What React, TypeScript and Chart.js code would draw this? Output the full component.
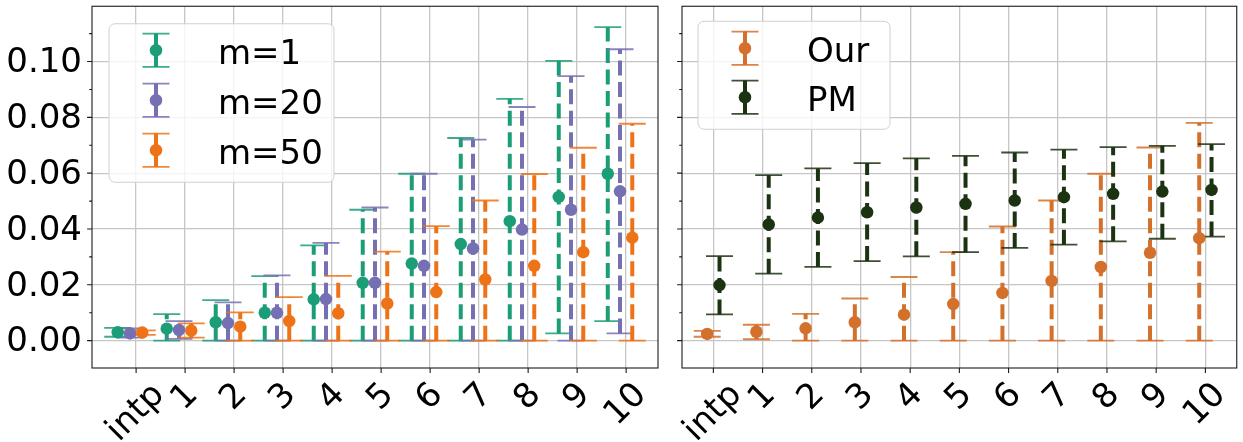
import React, { useEffect, useRef } from 'react';
import { Chart, registerables } from 'chart.js';

Chart.register(...registerables);

// ---------------- data ----------------
const categories = ['intp', '1', '2', '3', '4', '5', '6', '7', '8', '9', '10'];
const yMajorTicks = [0, 0.02, 0.04, 0.06, 0.08, 0.1];
const yMajorLabels = ['0.00', '0.02', '0.04', '0.06', '0.08', '0.10'];
const yMinorTicks = [0.01, 0.03, 0.05, 0.07, 0.09, 0.11];

const m1Mean = [0.0030, 0.0043, 0.0066, 0.0100, 0.0148, 0.0207, 0.0276, 0.0346, 0.0428, 0.0515, 0.0598];
const m1Low = [0.0014, 0.0, 0.0, 0.0, 0.0, 0.0, 0.0, 0.0, 0.0, 0.0026, 0.0070];
const m1High = [0.0046, 0.0095, 0.0145, 0.0231, 0.0341, 0.0469, 0.0598, 0.0726, 0.0866, 0.1002, 0.1123];

const m20Mean = [0.0026, 0.0038, 0.0063, 0.0100, 0.0149, 0.0207, 0.0268, 0.0330, 0.0398, 0.0469, 0.0535];
const m20Low = [0.0011, 0.0006, 0.0, 0.0, 0.0, 0.0, 0.0, 0.0, 0.0, 0.0, 0.0026];
const m20High = [0.0044, 0.0070, 0.0137, 0.0234, 0.0350, 0.0477, 0.0598, 0.0720, 0.0837, 0.0948, 0.1044];

const m50Mean = [0.0029, 0.0036, 0.0050, 0.0070, 0.0098, 0.0133, 0.0174, 0.0219, 0.0268, 0.0317, 0.0369];
const m50Low = [0.0021, 0.0011, 0.0, 0.0, 0.0, 0.0, 0.0, 0.0, 0.0, 0.0, 0.0];
const m50High = [0.0037, 0.0062, 0.0101, 0.0156, 0.0232, 0.0319, 0.0410, 0.0502, 0.0597, 0.0691, 0.0777];

const ourMean = [0.0024, 0.0032, 0.0044, 0.0066, 0.0093, 0.0131, 0.0171, 0.0214, 0.0264, 0.0315, 0.0367];
const ourLow = [0.0014, 0.0005, 0.0, 0.0, 0.0, 0.0, 0.0, 0.0, 0.0, 0.0, 0.0];
const ourHigh = [0.0035, 0.0057, 0.0096, 0.0151, 0.0228, 0.0317, 0.0409, 0.0502, 0.0598, 0.0692, 0.0780];

const pmMean = [0.0199, 0.0416, 0.0441, 0.0460, 0.0477, 0.0490, 0.0502, 0.0514, 0.0526, 0.0534, 0.0540];
const pmLow = [0.0094, 0.0240, 0.0264, 0.0285, 0.0302, 0.0317, 0.0332, 0.0344, 0.0356, 0.0365, 0.0373];
const pmHigh = [0.0303, 0.0593, 0.0617, 0.0636, 0.0653, 0.0662, 0.0674, 0.0684, 0.0693, 0.0698, 0.0704];

// ---------------- style ----------------
const FONT = "'DejaVu Sans', 'Liberation Sans', sans-serif";
const FS = 34;
const GRID = '#c6c6c6';
const Y_MIN = -0.0098;
const Y_MAX = 0.1198;

type Series = {
  label: string;
  color: string;
  mean: number[];
  low: number[];
  high: number[];
  offset: number;
};

const leftSeries: Series[] = [
  { label: 'm=1', color: '#1b9e77', mean: m1Mean, low: m1Low, high: m1High, offset: -0.375 },
  { label: 'm=20', color: '#7570b3', mean: m20Mean, low: m20Low, high: m20High, offset: -0.125 },
  { label: 'm=50', color: '#ee7216', mean: m50Mean, low: m50Low, high: m50High, offset: 0.125 },
];

const rightSeries: Series[] = [
  { label: 'Our', color: '#d3702c', mean: ourMean, low: ourLow, high: ourHigh, offset: -0.125 },
  { label: 'PM', color: '#1c3312', mean: pmMean, low: pmLow, high: pmHigh, offset: 0.125 },
];

type LegendSpec = { bx: number; by: number; bw: number; bh: number; rows: number[]; handleX: number; textX: number };

function drawErrorBar(ctx: CanvasRenderingContext2D, x: number, yLow: number, yHigh: number, color: string) {
  ctx.save();
  ctx.strokeStyle = color;
  ctx.lineWidth = 4;
  ctx.lineCap = 'butt';
  ctx.setLineDash([15, 6.5]);
  ctx.beginPath();
  ctx.moveTo(x, yLow);
  ctx.lineTo(x, yHigh);
  ctx.stroke();
  ctx.setLineDash([]);
  ctx.lineWidth = 1.8;
  ctx.globalAlpha = 0.85;
  ctx.beginPath();
  ctx.moveTo(x - 13.5, yLow);
  ctx.lineTo(x + 13.5, yLow);
  ctx.moveTo(x - 13.5, yHigh);
  ctx.lineTo(x + 13.5, yHigh);
  ctx.stroke();
  ctx.restore();
}

function zeroPadding(s: any) {
  s.paddingTop = 0;
  s.paddingBottom = 0;
  s.paddingLeft = 0;
  s.paddingRight = 0;
}

function makePlugin(series: Series[], legend: LegendSpec) {
  return {
    id: 'panelDecor',
    beforeDatasetsDraw(chart: any) {
      const { ctx, chartArea } = chart;
      const xs = chart.scales.x;
      const ys = chart.scales.y;
      ctx.save();
      ctx.beginPath();
      ctx.rect(chartArea.left, chartArea.top, chartArea.right - chartArea.left, chartArea.bottom - chartArea.top);
      ctx.clip();
      series.forEach((s) => {
        s.mean.forEach((_, i) => {
          const px = xs.getPixelForValue(i + s.offset);
          drawErrorBar(ctx, px, ys.getPixelForValue(s.low[i]), ys.getPixelForValue(s.high[i]), s.color);
        });
      });
      ctx.restore();
    },
    afterDraw(chart: any) {
      const { ctx, chartArea } = chart;
      const xs = chart.scales.x;
      const ys = chart.scales.y;
      const { left, right, top, bottom } = chartArea;
      ctx.save();
      // frame
      ctx.strokeStyle = '#1a1a1a';
      ctx.lineWidth = 1.1;
      ctx.strokeRect(left, top, right - left, bottom - top);
      // y ticks
      ctx.beginPath();
      yMajorTicks.forEach((v) => {
        const py = ys.getPixelForValue(v);
        ctx.moveTo(left - 4.9, py);
        ctx.lineTo(left, py);
      });
      yMinorTicks.forEach((v) => {
        const py = ys.getPixelForValue(v);
        ctx.moveTo(left - 2.8, py);
        ctx.lineTo(left, py);
      });
      // x ticks
      categories.forEach((_, i) => {
        const px = xs.getPixelForValue(i);
        ctx.moveTo(px, bottom);
        ctx.lineTo(px, bottom + 4.9);
      });
      ctx.stroke();
      // x labels, rotated 45deg, bbox centered on tick
      ctx.fillStyle = '#000';
      ctx.font = `${FS}px ${FONT}`;
      const h = FS * 0.99;
      const d = FS * 0.236;
      categories.forEach((lab, i) => {
        const px = xs.getPixelForValue(i);
        const w = ctx.measureText(lab).width;
        const half = ((w + h) * Math.SQRT1_2) / 2;
        const cy = bottom + 9.8 + half;
        ctx.save();
        ctx.translate(px, cy);
        ctx.rotate(-Math.PI / 4);
        ctx.textAlign = 'center';
        ctx.textBaseline = 'alphabetic';
        ctx.fillText(lab, 0, h / 2 - d);
        ctx.restore();
      });
      // legend
      const bx = left + legend.bx;
      const by = top + legend.by;
      const r = 6;
      ctx.beginPath();
      ctx.moveTo(bx + r, by);
      ctx.lineTo(bx + legend.bw - r, by);
      ctx.arcTo(bx + legend.bw, by, bx + legend.bw, by + r, r);
      ctx.lineTo(bx + legend.bw, by + legend.bh - r);
      ctx.arcTo(bx + legend.bw, by + legend.bh, bx + legend.bw - r, by + legend.bh, r);
      ctx.lineTo(bx + r, by + legend.bh);
      ctx.arcTo(bx, by + legend.bh, bx, by + legend.bh - r, r);
      ctx.lineTo(bx, by + r);
      ctx.arcTo(bx, by, bx + r, by, r);
      ctx.closePath();
      ctx.fillStyle = 'rgba(255,255,255,0.8)';
      ctx.fill();
      ctx.strokeStyle = '#d0d0d0';
      ctx.lineWidth = 1;
      ctx.stroke();
      series.forEach((s, k) => {
        const cy = top + legend.rows[k];
        const hx = left + legend.handleX;
        drawErrorBar(ctx, hx, cy + 16.7, cy - 16.7, s.color);
        ctx.beginPath();
        ctx.fillStyle = s.color;
        ctx.arc(hx, cy, 6.25, 0, Math.PI * 2);
        ctx.fill();
        ctx.fillStyle = '#000';
        ctx.font = `${FS}px ${FONT}`;
        ctx.textAlign = 'left';
        ctx.textBaseline = 'alphabetic';
        ctx.fillText(s.label, left + legend.textX, cy + 13.5);
      });
      ctx.restore();
    },
  };
}

type PanelProps = {
  series: Series[];
  xMin: number;
  xMax: number;
  showYLabels: boolean;
  yAxisWidth: number;
  padRight: number;
  width: number;
  left: number;
  legend: LegendSpec;
};

function Panel(props: PanelProps) {
  const ref = useRef<HTMLCanvasElement>(null);
  useEffect(() => {
    const { series, xMin, xMax, showYLabels, yAxisWidth, padRight, legend } = props;
    const chart = new Chart(ref.current as HTMLCanvasElement, {
      type: 'scatter',
      data: {
        datasets: series.map((s, k) => ({
          type: 'scatter' as const,
          label: s.label,
          data: s.mean.map((v, i) => ({ x: i + s.offset, y: v })),
          backgroundColor: s.color,
          borderColor: s.color,
          borderWidth: 0,
          pointRadius: 6.25,
          pointHoverRadius: 6.25,
          order: series.length - k,
        })),
      },
      options: {
        animation: false,
        responsive: false,
        events: [],
        layout: { padding: { top: 4, right: padRight, left: 0, bottom: 0 } },
        plugins: { legend: { display: false }, tooltip: { enabled: false }, title: { display: false } },
        scales: {
          x: {
            type: 'linear',
            min: xMin,
            max: xMax,
            afterBuildTicks: (s: any) => {
              s.ticks = categories.map((_, i) => ({ value: i }));
            },
            ticks: { display: false },
            grid: { color: GRID, lineWidth: 1.3, drawTicks: false },
            border: { display: false },
            afterFit: (s: any) => {
              s.height = 74;
              zeroPadding(s);
            },
          },
          y: {
            type: 'linear',
            min: Y_MIN,
            max: Y_MAX,
            afterBuildTicks: (s: any) => {
              s.ticks = yMajorTicks.map((v) => ({ value: v }));
            },
            ticks: {
              display: showYLabels,
              autoSkip: false,
              color: '#000',
              padding: 10,
              labelOffset: 2,
              font: { family: FONT, size: FS },
              callback: (_v: any, i: number) => yMajorLabels[i],
            },
            grid: { color: GRID, lineWidth: 1.3, drawTicks: false },
            border: { display: false },
            afterFit: (s: any) => {
              s.width = yAxisWidth;
              zeroPadding(s);
            },
          },
        },
      },
      plugins: [makePlugin(series, legend)],
    } as any);
    return () => chart.destroy();
  }, []);
  return (
    <canvas
      ref={ref}
      width={props.width}
      height={442}
      style={{ position: 'absolute', left: props.left, top: 0, width: props.width, height: 442 }}
    />
  );
}

export default function App() {
  useEffect(() => {
    document.body.style.margin = '0';
    document.body.style.background = '#fff';
  }, []);
  return (
    <div style={{ position: 'relative', width: 1243, height: 442, background: '#fff', overflow: 'hidden' }}>
      <Panel
        series={leftSeries}
        xMin={-0.9}
        xMax={10.65}
        showYLabels={true}
        yAxisWidth={92}
        padRight={12}
        width={670}
        left={0}
        legend={{ bx: 17, by: 17.5, bw: 225, bh: 158.5, rows: [44, 94, 144], handleX: 64, textX: 126 }}
      />
      <Panel
        series={rightSeries}
        xMin={-0.6375}
        xMax={10.6375}
        showYLabels={false}
        yAxisWidth={12}
        padRight={3}
        width={573}
        left={670}
        legend={{ bx: 16, by: 15, bw: 192, bh: 108, rows: [42, 91], handleX: 63, textX: 125 }}
      />
    </div>
  );
}
